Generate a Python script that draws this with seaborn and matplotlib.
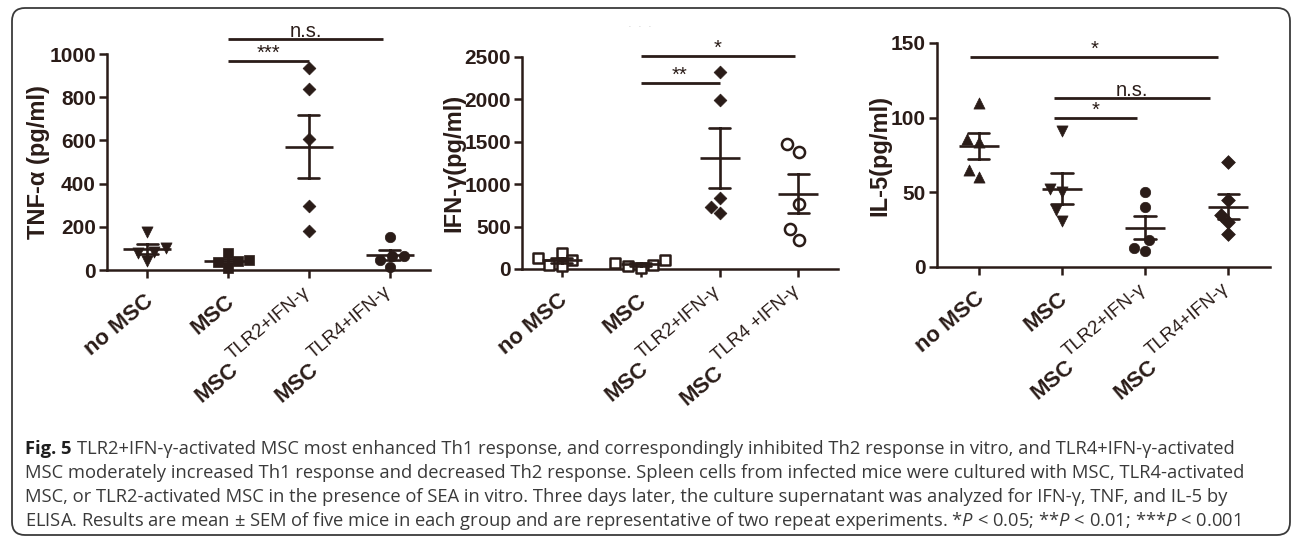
import matplotlib
matplotlib.use("Agg")
import numpy as np
import pandas as pd
import matplotlib.pyplot as plt
import seaborn as sns
from matplotlib.patches import FancyBboxPatch
from matplotlib.transforms import IdentityTransform
from matplotlib.font_manager import FontProperties
from matplotlib.textpath import TextToPath

# ---------------- data ----------------
groups = ["no MSC", "MSC", "MSC TLR2+IFN-γ", "MSC TLR4+IFN-γ"]

tnf_no_msc = [178, 40, 100, 85, 77]
tnf_msc = [78, 45, 40, 35, 10]
tnf_tlr2 = [937, 836, 605, 296, 182]
tnf_tlr4 = [151, 65, 65, 46, 15]

ifn_no_msc = [190, 130, 110, 50, 35]
ifn_msc = [110, 70, 50, 30, 15]
ifn_tlr2 = [2323, 1997, 837, 731, 660]
ifn_tlr4 = [1478, 1376, 770, 472, 346]

il5_no_msc = [110, 86, 84, 65, 60]
il5_msc = [91, 52, 50, 38, 31]
il5_tlr2 = [50, 40, 18, 13, 11]
il5_tlr4 = [70, 45, 35, 30, 22]

y_labels = ["TNF-α (pg/ml)", "IFN-γ(pg/ml)", "IL-5(pg/ml)"]
y_ticks_tnf = [0, 200, 400, 600, 800, 1000]
y_ticks_ifn = [0, 500, 1000, 1500, 2000, 2500]
y_ticks_il5 = [0, 50, 100, 150]

label_main = ["no MSC", "MSC", "MSC", "MSC"]
label_sup_tnf = ["", "", "TLR2+IFN-γ", "TLR4+IFN-γ"]
label_sup_ifn = ["", "", "TLR2+IFN-γ", "TLR4 +IFN-γ"]
label_sup_il5 = ["", "", "TLR2+IFN-γ", "TLR4+IFN-γ"]

# significance brackets: (text, from category, to category, level)
sig_tnf = [("***", 1.0, 2.0, 968), ("n.s.", 1.0, 2.92, 1069)]
sig_ifn = [("**", 1.0, 2.0, 2193), ("*", 1.0, 2.96, 2508)]
sig_il5 = [("*", -0.1, 2.88, 140.6), ("n.s.", 0.9, 2.78, 113), ("*", 0.9, 1.9, 99.6)]

caption_lines = [
    "TLR2+IFN-γ-activated MSC most enhanced Th1 response, and correspondingly inhibited Th2 response in vitro, and TLR4+IFN-γ-activated",
    "MSC moderately increased Th1 response and decreased Th2 response. Spleen cells from infected mice were cultured with MSC, TLR4-activated",
    "MSC, or TLR2-activated MSC in the presence of SEA in vitro. Three days later, the culture supernatant was analyzed for IFN-γ, TNF, and IL-5 by",
    "ELISA. Results are mean ± SEM of five mice in each group and are representative of two repeat experiments. *$P$ < 0.05; **$P$ < 0.01; ***$P$ < 0.001",
]
caption_head = "Fig. 5"

# ---------------- style ----------------
W, H, DPI = 1292, 538, 100
DARK = "#2a1c18"
sns.set_style("ticks")
plt.rcParams["font.family"] = ["Liberation Sans", "DejaVu Sans"]
plt.rcParams["mathtext.fontset"] = "custom"
plt.rcParams["mathtext.rm"] = "Open Sans"
plt.rcParams["mathtext.it"] = "Open Sans:italic"
plt.rcParams["axes.edgecolor"] = DARK
plt.rcParams["xtick.color"] = DARK
plt.rcParams["ytick.color"] = DARK
plt.rcParams["text.color"] = DARK

fig = plt.figure(figsize=(W / DPI, H / DPI), dpi=DPI)
fig.patch.set_facecolor("white")

t2p = TextToPath()


def width_pt(s, size, weight="normal", family="Liberation Sans"):
    fp = FontProperties(family=family, size=size, weight=weight)
    w, h, d = t2p.get_text_width_height_descent(s, fp, ismath=False)
    return w


ANG = 40
ca, sa = np.cos(np.radians(ANG)), np.sin(np.radians(ANG))
SUP = 13.5


def add_cat_labels(ax, mains, sups):
    common = dict(xycoords=("data", "axes fraction"), textcoords="offset points",
                  rotation=ANG, rotation_mode="anchor", ha="right", va="baseline",
                  color=DARK, annotation_clip=False)
    for i, (m, s) in enumerate(zip(mains, sups)):
        if not s:
            ax.annotate(m, xy=(i, 0), xytext=(5, -24), fontsize=16, fontweight="bold", **common)
        else:
            sx, sy = 1, -17
            ax.annotate(s, xy=(i, 0), xytext=(sx, sy), fontsize=SUP, **common)
            L = width_pt(s, SUP) + 1.5
            r = 10
            mx = sx - L * ca + r * sa
            my = sy - L * sa - r * ca
            ax.annotate(m, xy=(i, 0), xytext=(mx, my), fontsize=16, fontweight="bold", **common)


def panel(rect, series, markers, open_flags, sizes, yticks, ylabel, sups, sigs, mean_w, label_x):
    ax = fig.add_axes(rect)
    df = pd.DataFrame({
        "group": np.repeat(groups, [len(v) for v in series]),
        "value": np.concatenate([np.asarray(v, float) for v in series]),
    })
    for g, mk, op, sz in zip(groups, markers, open_flags, sizes):
        sub = df[df["group"] == g]
        if op:
            sns.swarmplot(data=sub, x="group", y="value", order=groups, ax=ax, marker=mk,
                          color="white", edgecolor=DARK, linewidth=1.8, size=sz, clip_on=False,
                          zorder=3)
        else:
            sns.swarmplot(data=sub, x="group", y="value", order=groups, ax=ax, marker=mk,
                          color=DARK, edgecolor=DARK, linewidth=0.5, size=sz, clip_on=False,
                          zorder=3)
    sns.pointplot(data=df, x="group", y="value", order=groups, ax=ax, errorbar="se",
                  capsize=0.26, linestyle="none", marker="_", markersize=mean_w,
                  markeredgewidth=1.9, color=DARK, err_kws={"linewidth": 1.9}, zorder=4)
    ax.set_xlim(-0.5, 3.5)
    ax.set_ylim(yticks[0], yticks[-1])
    ax.set_yticks(yticks)
    ax.set_xticks(range(len(groups)))
    ax.set_xticklabels([""] * len(groups))
    ax.set_xlabel("")
    ax.set_ylabel(ylabel, fontsize=17, fontweight="bold", color=DARK)
    ax.yaxis.set_label_coords(label_x, 0.5)
    ax.tick_params(axis="both", direction="out", width=1.8, length=6, color=DARK)
    ax.tick_params(axis="y", labelsize=15, pad=2)
    for t in ax.get_yticklabels():
        t.set_fontweight("bold")
    sns.despine(ax=ax)
    for sp in ("left", "bottom"):
        ax.spines[sp].set_linewidth(1.8)
        ax.spines[sp].set_color(DARK)
    ax.patch.set_alpha(0)
    for txt, x0, x1, yv in sigs:
        ax.plot([x0, x1], [yv, yv], color=DARK, lw=2.0, clip_on=False, solid_capstyle="butt")
        ax.annotate(txt, xy=((x0 + x1) / 2, yv), xytext=(0, 1.5), textcoords="offset points",
                    ha="center", va="baseline", fontsize=14.5, color=DARK, annotation_clip=False)
    add_cat_labels(ax, label_main, sups)
    return ax


panel([107 / W, 1 - 270 / H, 323 / W, 216 / H],
      [tnf_no_msc, tnf_msc, tnf_tlr2, tnf_tlr4],
      ["v", "s", "D", "o"], [False, False, False, False], [8, 7.5, 6.5, 7.5],
      y_ticks_tnf, y_labels[0], label_sup_tnf, sig_tnf, 34, -0.175)

panel([522 / W, 1 - 269 / H, 316 / W, 212 / H],
      [ifn_no_msc, ifn_msc, ifn_tlr2, ifn_tlr4],
      ["s", "s", "D", "o"], [True, True, False, True], [7, 7, 6.5, 8],
      y_ticks_ifn, y_labels[1], label_sup_ifn, sig_ifn, 29, -0.18)

panel([937 / W, 1 - 267 / H, 333 / W, 224 / H],
      [il5_no_msc, il5_msc, il5_tlr2, il5_tlr4],
      ["^", "v", "o", "D"], [False, False, False, False], [8, 8, 7.5, 7],
      y_ticks_il5, y_labels[2], label_sup_il5, sig_il5, 29, -0.137)

# faint artifact dots above middle panel
fig.text(640 / W, 1 - 27 / H, "·  ·  ·", color="#c9c9c9", fontsize=8, ha="center", va="center")

# ---------------- caption ----------------
CAP = 13.2
x0 = 25
baselines = [454, 478, 502, 526]
fig.text(x0 / W, 1 - baselines[0] / H, caption_head, fontsize=CAP, fontweight="bold",
         family="Open Sans", va="baseline", ha="left", color="#1e1e1e")
head_w = (width_pt(caption_head, CAP, "bold", "Open Sans") + 0.3 * CAP) * DPI / 72
for k, line in enumerate(caption_lines):
    xx = x0 + (head_w if k == 0 else 0)
    fig.text(xx / W, 1 - baselines[k] / H, line, fontsize=CAP, family="Open Sans",
             va="baseline", ha="left", color="#3a3a3a")

# ---------------- frame ----------------
frame = FancyBboxPatch((12, 3), 1278, 527, boxstyle="round,pad=0,rounding_size=13",
                       transform=IdentityTransform(), fill=False, edgecolor="#3a3a3a",
                       linewidth=1.3)
fig.add_artist(frame)

fig.savefig("out.png", dpi=DPI, facecolor="white")
